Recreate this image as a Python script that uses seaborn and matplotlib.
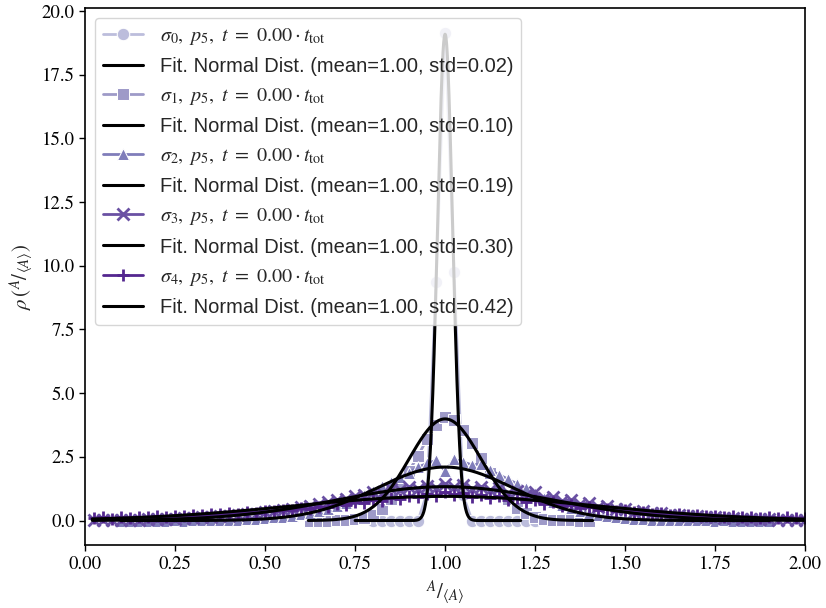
import numpy as np
import matplotlib
matplotlib.use("Agg")
import matplotlib.pyplot as plt
import seaborn as sns

# ---------------- data ----------------
bin_step = 0.025
x_start = [0.800, 0.625, 0.100, 0.025, 0.025]
x_stop = [1.250, 1.400, 1.900, 2.000, 2.000]

rho0 = [0.0, 0.0, 0.0, 0.0, 0.0, 0.0, 1.1, 9.35, 19.15, 9.75, 1.0,
        0.0, 0.0, 0.0, 0.0, 0.0, 0.0, 0.0, 0.0]

rho1 = [0.00, 0.00, 0.00, 0.01, 0.02, 0.05, 0.10, 0.22, 0.45, 0.85, 1.35,
        1.95, 2.55, 3.20, 3.75, 4.05, 3.95, 3.55, 3.05, 2.45, 1.85, 1.30,
        0.85, 0.50, 0.28, 0.15, 0.07, 0.03, 0.01, 0.01, 0.00, 0.00]

rho2 = [0.00, 0.00, 0.00, 0.00, 0.00, 0.00, 0.01, 0.00, 0.01, 0.01, 0.02,
        0.02, 0.03, 0.04, 0.05, 0.07, 0.09, 0.12, 0.15, 0.19, 0.24,
        0.30, 0.38, 0.46, 0.58, 0.70, 0.84, 1.00, 1.16, 1.34, 1.52,
        1.72, 1.88, 2.10, 2.24, 2.36, 1.95,
        2.40, 2.30, 2.18, 2.22, 1.98, 1.80,
        1.62, 1.44, 1.26, 1.08, 0.90, 0.74, 0.60, 0.48, 0.37, 0.28,
        0.21, 0.16, 0.12, 0.09, 0.07, 0.05, 0.04, 0.03, 0.02, 0.02,
        0.01, 0.01, 0.01, 0.00, 0.01, 0.00, 0.00, 0.00, 0.00, 0.00]

rho3 = [0.02, 0.01, 0.03, 0.02, 0.04, 0.03, 0.05, 0.05, 0.07, 0.06,
        0.09, 0.10, 0.12, 0.13, 0.16, 0.18, 0.21, 0.24, 0.27, 0.32,
        0.36, 0.42, 0.46, 0.53, 0.58, 0.66, 0.72, 0.80, 0.86, 0.98,
        1.02, 1.12, 1.08, 1.22, 1.18, 1.30, 1.22, 1.36, 1.28, 1.42,
        1.30, 1.38, 1.25, 1.32, 1.18, 1.26, 1.10, 1.16, 1.00, 1.12,
        0.90, 0.94, 0.78, 0.80, 0.66, 0.68, 0.54, 0.56, 0.44, 0.45,
        0.35, 0.36, 0.28, 0.28, 0.21, 0.22, 0.16, 0.17, 0.12, 0.13,
        0.09, 0.10, 0.07, 0.07, 0.05, 0.05, 0.04, 0.04, 0.03, 0.03]

rho4 = [0.10, 0.12, 0.08, 0.13, 0.11, 0.14, 0.12, 0.16, 0.15, 0.19,
        0.17, 0.22, 0.20, 0.26, 0.24, 0.30, 0.27, 0.33, 0.31, 0.38,
        0.36, 0.43, 0.40, 0.48, 0.45, 0.55, 0.52, 0.63, 0.60, 0.72,
        0.68, 0.80, 0.76, 0.90, 0.84, 0.98, 0.92, 1.05, 0.96, 1.12,
        1.00, 1.10, 0.92, 1.02, 0.88, 0.96, 0.82, 0.88, 0.74, 0.80,
        0.66, 0.72, 0.58, 0.62, 0.50, 0.54, 0.43, 0.46, 0.37, 0.40,
        0.32, 0.34, 0.27, 0.30, 0.23, 0.26, 0.20, 0.22, 0.17, 0.19,
        0.15, 0.17, 0.13, 0.15, 0.11, 0.13, 0.10, 0.12, 0.09, 0.11]

rho_series = [rho0, rho1, rho2, rho3, rho4]

fit_mean = [1.00, 1.00, 1.00, 1.00, 1.00]
fit_std = [0.0209, 0.100, 0.190, 0.300, 0.420]
fit_lo = [0.75, 0.62, 0.10, 0.02, 0.02]
fit_hi = [1.21, 1.41, 1.90, 2.00, 2.00]

colors = ['#bcbddc', '#9e9ac8', '#807dba', '#6a51a3', '#54278f']
markers = ['o', 's', '^', 'x', '+']

x_ticks = [0.00, 0.25, 0.50, 0.75, 1.00, 1.25, 1.50, 1.75, 2.00]
y_ticks = [0.0, 2.5, 5.0, 7.5, 10.0, 12.5, 15.0, 17.5, 20.0]

# ---------------- style ----------------
sns.set_style("ticks")
plt.rcParams['font.family'] = ['STIXGeneral', 'DejaVu Serif']
plt.rcParams['mathtext.fontset'] = 'stix'
plt.rcParams['axes.edgecolor'] = 'black'
plt.rcParams['xtick.color'] = 'black'
plt.rcParams['ytick.color'] = 'black'

fig = plt.figure(figsize=(8.26, 6.08), dpi=100)
ax = fig.add_axes([0.103, 0.1036, 0.8717, 0.8834])

for i in range(5):
    n = len(rho_series[i])
    xs = np.round(x_start[i] + bin_step * np.arange(n), 4)
    lab = r'$\sigma_{%d},\ p_5,\ t\ =\ 0.00\cdot t_{\mathrm{tot}}$' % i
    kw = dict(color=colors[i], marker=markers[i], markersize=9, linewidth=2,
              label=lab, sort=False, estimator=None, ax=ax, zorder=2)
    if markers[i] in ('x', '+'):
        kw.update(markeredgecolor=colors[i], markeredgewidth=2)
    else:
        kw.update(markeredgecolor='white', markeredgewidth=0.75)
    sns.lineplot(x=xs, y=rho_series[i], **kw)

    xf = np.linspace(fit_lo[i], fit_hi[i], 500)
    yf = np.exp(-0.5 * ((xf - fit_mean[i]) / fit_std[i]) ** 2) / (fit_std[i] * np.sqrt(2 * np.pi))
    flab = 'Fit. Normal Dist. (mean=%.2f, std=%.2f)' % (fit_mean[i], fit_std[i])
    sns.lineplot(x=xf, y=yf, color='black', linewidth=2.2, label=flab,
                 sort=False, estimator=None, ax=ax, zorder=3)

ax.set_xlim(0, 2)
ax.set_ylim(-0.96, 20.12)
ax.set_xticks(x_ticks)
ax.set_xticklabels(['%.2f' % v for v in x_ticks])
ax.set_yticks(y_ticks)
ax.set_yticklabels(['%.1f' % v for v in y_ticks])
ax.tick_params(labelsize=13.5, direction='out', length=4, width=1)
for s in ax.spines.values():
    s.set_visible(True)
    s.set_color('black')
    s.set_linewidth(1.2)

ax.set_xlabel(r'$^{A}/_{\langle A\rangle}$', fontsize=15)
ax.set_ylabel(r'$\rho\,(^{A}/_{\langle A\rangle})$', fontsize=15)

leg = ax.legend(loc='upper left', prop={'family': 'Liberation Sans', 'size': 14.5},
                labelspacing=0.5, framealpha=0.8, handlelength=2.0)
leg.set_zorder(5)

fig.savefig('out.png', dpi=100)
